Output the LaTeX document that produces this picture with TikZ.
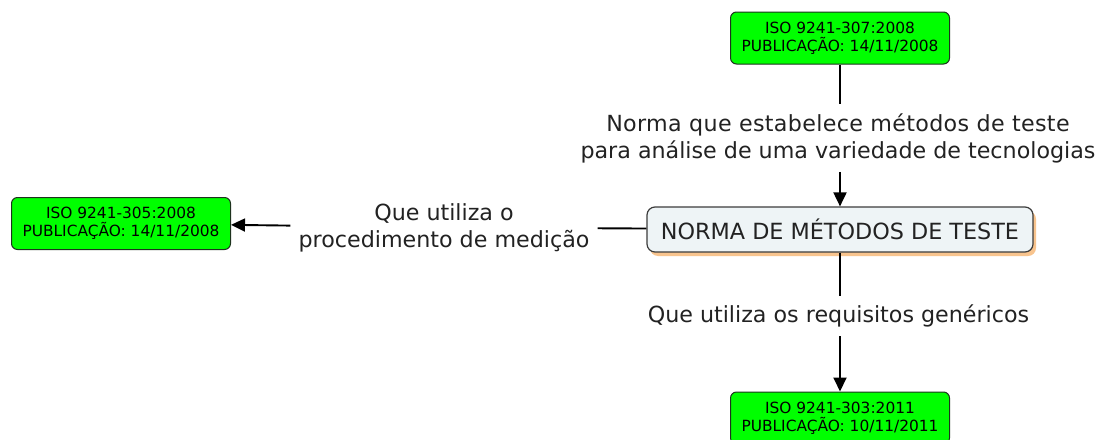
\documentclass[tikz,border=0pt]{standalone}
\usepackage{fontspec}
\setmainfont{DejaVu Sans}
\usetikzlibrary{arrows.meta,shadows}
\definecolor{isogreen}{RGB}{0,255,0}
\definecolor{isoborder}{RGB}{30,50,30}
\definecolor{mainfill}{RGB}{238,244,246}
\definecolor{mainborder}{RGB}{60,60,60}
\definecolor{shadoworange}{RGB}{248,196,142}
\definecolor{txt}{RGB}{34,34,34}
\begin{document}
\begin{tikzpicture}[x=1pt,y=-1pt,
  isobox/.style={draw=isoborder, line width=1pt, fill=isogreen, rounded corners=6pt,
    minimum width=219pt, minimum height=52pt, align=center, inner sep=0pt,
    font=\fontsize{15.4}{18.3}\selectfont, text=black},
  mainbox/.style={draw=mainborder, line width=1.2pt, fill=mainfill, rounded corners=8pt,
    minimum width=386pt, minimum height=45pt, inner sep=0pt,
    font=\fontsize{22.3}{27}\selectfont, text=txt,
    drop shadow={shadow xshift=3pt, shadow yshift=-4pt, fill=shadoworange, opacity=1}},
  lbl/.style={align=center, inner xsep=8pt, inner ysep=9pt, text=txt,
    font=\fontsize{22.2}{27}\selectfont},
  conn/.style={line width=1.9pt, draw=black},
  arr/.style={conn, -{Triangle[length=14pt,width=13pt]}}]
\useasboundingbox (0,0) rectangle (1102,439);
\fill[white] (0,0) rectangle (1102,439);

\node[isobox] (top) at (840,38) {ISO 9241-307:2008\\PUBLICAÇÃO: 14/11/2008};
\node[isobox] (left) at (121,223.5) {ISO 9241-305:2008\\PUBLICAÇÃO: 14/11/2008};
\node[isobox] (bottom) at (840,418) {ISO 9241-303:2011\\PUBLICAÇÃO: 10/11/2011};
\node[mainbox] (main) at (840,229.5) {NORMA DE MÉTODOS DE TESTE};

\node[lbl] (ltop) at (838,138) {{\addfontfeature{LetterSpace=1.5}Norma que estabelece métodos de teste}\\para análise de uma variedade de tecnologias};
\node[lbl] (lleft) at (444,227.5) {Que utiliza o\\procedimento de medição};
\node[lbl] (lbottom) at (838.5,316) {Que utiliza os requisitos genéricos};

\draw[conn] (top) -- (top |- ltop.north);
\draw[arr] (main |- ltop.south) -- (main);
\draw[conn] (main) -- (lleft);
\draw[arr] (lleft) -- (left);
\draw[conn] (main) -- (main |- lbottom.north);
\draw[arr] (main |- lbottom.south) -- (bottom);
\end{tikzpicture}
\end{document}
